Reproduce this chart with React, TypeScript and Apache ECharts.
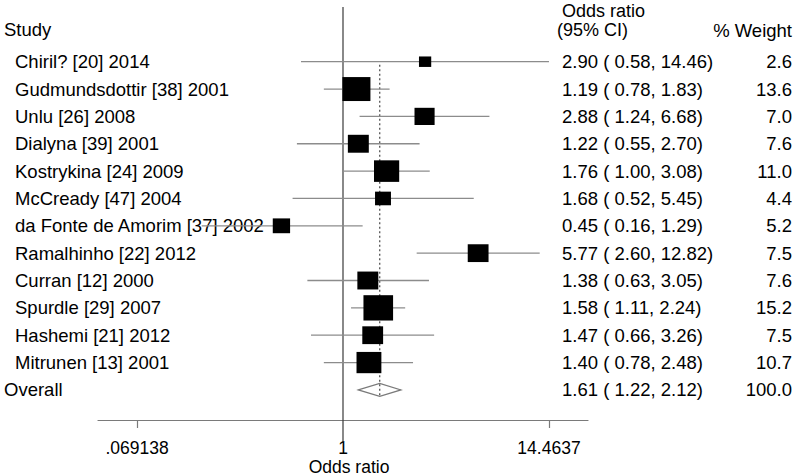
import React, { useEffect, useRef } from "react";
import * as echarts from "echarts";

const studies = [
  "Chiril? [20] 2014",
  "Gudmundsdottir [38] 2001",
  "Unlu [26] 2008",
  "Dialyna [39] 2001",
  "Kostrykina [24] 2009",
  "McCready [47] 2004",
  "da Fonte de Amorim [37] 2002",
  "Ramalhinho [22] 2012",
  "Curran [12] 2000",
  "Spurdle [29] 2007",
  "Hashemi [21] 2012",
  "Mitrunen [13] 2001",
];
const oddsRatio = [2.9, 1.19, 2.88, 1.22, 1.76, 1.68, 0.45, 5.77, 1.38, 1.58, 1.47, 1.4];
const ciLow = [0.58, 0.78, 1.24, 0.55, 1.0, 0.52, 0.16, 2.6, 0.63, 1.11, 0.66, 0.78];
const ciHigh = [14.46, 1.83, 6.68, 2.7, 3.08, 5.45, 1.29, 12.82, 3.05, 2.24, 3.26, 2.48];
const weights = [2.6, 13.6, 7.0, 7.6, 11.0, 4.4, 5.2, 7.5, 7.6, 15.2, 7.5, 10.7];

const overallLabel = "Overall";
const overallOR = 1.61;
const overallLow = 1.22;
const overallHigh = 2.12;
const overallWeight = 100.0;

const tickValues = [0.069138, 1, 14.4637];
const tickLabels = [".069138", "1", "14.4637"];

const FONT = "'Liberation Sans', Arial, Helvetica, sans-serif";
const FS = 18.5;
const AXFS = 17.5;

const lg = (v: number) => Math.log10(v);
const ciText = (o: number, l: number, h: number) =>
  `${o.toFixed(2)} ( ${l.toFixed(2)}, ${h.toFixed(2)})`;

export default function App() {
  const ref = useRef<HTMLDivElement>(null);

  useEffect(() => {
    document.body.style.margin = "0";
    if (!ref.current) return;
    const chart = echarts.init(ref.current, undefined, { renderer: "svg" });
    const overallRow = studies.length;

    const ciData = studies.map((_, i) => [i, lg(oddsRatio[i]), lg(ciLow[i]), lg(ciHigh[i]), weights[i]]);

    const txt = (text: string, x: number, y: number, align: string, fs: number = FS) => ({
      type: "text",
      x,
      y,
      style: {
        text,
        fontSize: fs,
        fontFamily: FONT,
        lineHeight: 17,
        fill: "#000",
        align,
        verticalAlign: "middle",
      },
    });

    const rowTextData = [...studies.map((_, i) => [i]), [overallRow]];

    const option: any = {
      animation: false,
      grid: {
        left: 98,
        right: 212,
        top: 7,
        bottom: 56,
        containLabel: false,
        outerBoundsMode: "none",
      },
      xAxis: {
        type: "value",
        min: -1.38,
        max: 1.38,
        splitLine: { show: false },
        axisLine: { show: true, onZero: false, lineStyle: { color: "#7a7a7a", width: 1.2 } },
        axisTick: {
          show: true,
          length: 8,
          customValues: [lg(tickValues[0]), lg(tickValues[2])],
          lineStyle: { color: "#7a7a7a", width: 1.2 },
        },
        axisLabel: {
          customValues: tickValues.map(lg),
          margin: 20,
          fontSize: AXFS,
          fontFamily: FONT,
          lineHeight: 16,
          color: "#000",
          formatter: (v: number) => {
            let best = 0;
            tickValues.forEach((t, k) => {
              if (Math.abs(lg(t) - v) < Math.abs(lg(tickValues[best]) - v)) best = k;
            });
            return tickLabels[best];
          },
        },
        name: "Odds ratio",
        nameLocation: "middle",
        nameGap: 39,
        nameMoveOverlap: false,
        nameTextStyle: {
          fontSize: AXFS,
          fontFamily: FONT,
          color: "#000",
          lineHeight: 16,
          padding: [0, 0, 0, 12],
        },
      },
      yAxis: { type: "value", inverse: true, min: -2, max: 13.1, show: false },
      graphic: [
        txt("Study", 4, 29, "left"),
        txt("Odds ratio", 562, 11, "left", 18),
        txt("(95% CI)", 557, 30, "left", 18),
        txt("% Weight", 792, 30, "right"),
      ],
      series: [
        {
          type: "custom",
          z: 1,
          silent: true,
          clip: false,
          data: [[0]],
          renderItem: (_p: any, api: any) => {
            const a = api.coord([0, -2]);
            const b = api.coord([0, 13.9]);
            return {
              type: "line",
              shape: { x1: a[0], y1: a[1], x2: b[0], y2: b[1] },
              style: { stroke: "#3a3a3a", lineWidth: 1.2 },
            };
          },
        },
        {
          type: "custom",
          z: 2,
          silent: true,
          clip: false,
          data: [[lg(overallOR), lg(overallLow), lg(overallHigh), overallRow]],
          renderItem: (_p: any, api: any) => {
            const o = api.value(0), l = api.value(1), h = api.value(2), r = api.value(3);
            const c = api.coord([o, r]);
            const pl = api.coord([l, r]);
            const ph = api.coord([h, r]);
            const top = api.coord([o, 0]);
            return {
              type: "group",
              children: [
                {
                  type: "polygon",
                  shape: {
                    points: [
                      [pl[0], pl[1]],
                      [c[0], c[1] - 6.5],
                      [ph[0], ph[1]],
                      [c[0], c[1] + 6.5],
                    ],
                  },
                  style: { fill: "#fff", stroke: "#7a7a7a", lineWidth: 1.2 },
                },
                {
                  type: "line",
                  shape: { x1: top[0], y1: top[1] + 3, x2: c[0], y2: c[1] + 6 },
                  style: { stroke: "#555", lineWidth: 1.3, lineDash: [2, 2.5] },
                },
              ],
            };
          },
        },
        {
          type: "custom",
          z: 3,
          silent: true,
          clip: false,
          data: ciData,
          renderItem: (_p: any, api: any) => {
            const i = api.value(0);
            const o = api.value(1), l = api.value(2), h = api.value(3), w = api.value(4);
            const p1 = api.coord([l, i]);
            const p2 = api.coord([h, i]);
            const c = api.coord([o, i]);
            const sw = 7.6 * Math.sqrt(w);
            const sh = 6.5 * Math.sqrt(w);
            return {
              type: "group",
              children: [
                {
                  type: "line",
                  shape: { x1: p1[0], y1: p1[1], x2: p2[0], y2: p2[1] },
                  style: { stroke: "#8c8c8c", lineWidth: 1.3 },
                },
                {
                  type: "rect",
                  shape: { x: c[0] - sw / 2, y: c[1] - sh / 2, width: sw, height: sh },
                  style: { fill: "#000" },
                },
              ],
            };
          },
        },
        {
          type: "custom",
          z: 0,
          silent: true,
          clip: false,
          data: rowTextData,
          renderItem: (p: any, api: any) => {
            const r = api.value(0);
            const y = api.coord([0, r])[1];
            const isOverall = p.dataIndex === studies.length;
            const name = isOverall ? overallLabel : studies[p.dataIndex];
            const ci = isOverall
              ? ciText(overallOR, overallLow, overallHigh)
              : ciText(oddsRatio[p.dataIndex], ciLow[p.dataIndex], ciHigh[p.dataIndex]);
            const wt = isOverall ? overallWeight : weights[p.dataIndex];
            return {
              type: "group",
              children: [
                txt(name, isOverall ? 4 : 15, y, "left"),
                txt(ci, 562, y, "left"),
                txt(wt.toFixed(1), 792, y, "right"),
              ],
            };
          },
        },
      ],
    };

    chart.setOption(option);
    return () => chart.dispose();
  }, []);

  return (
    <div
      ref={ref}
      style={{ position: "absolute", left: 0, top: 0, width: 800, height: 476, background: "#fff" }}
    />
  );
}
